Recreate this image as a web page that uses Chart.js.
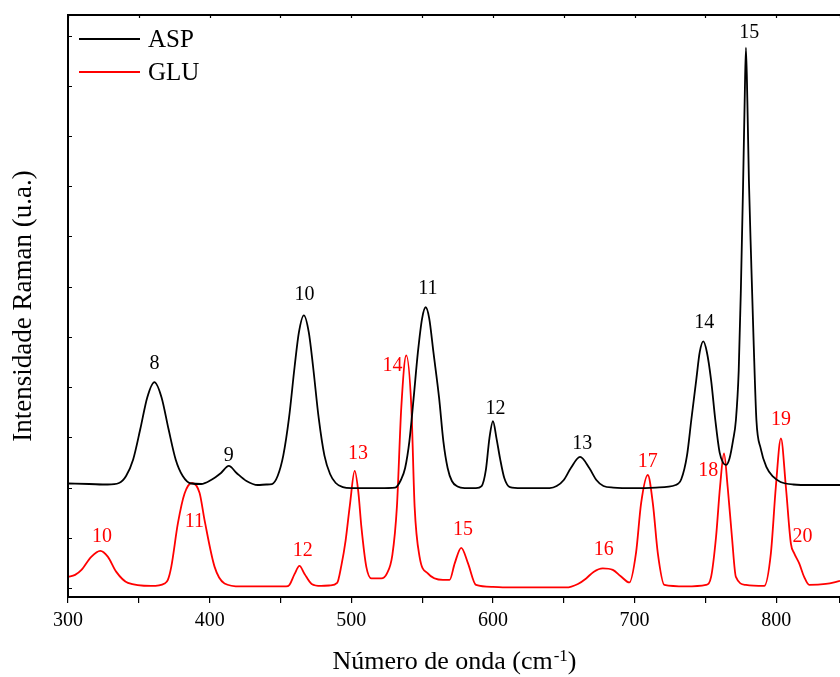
<!DOCTYPE html>
<html>
<head>
<meta charset="utf-8">
<script src="https://cdn.jsdelivr.net/npm/chart.js@4"></script>
<style>
  html, body { margin: 0; padding: 0; background: #fff; }
  #wrap { width: 840px; height: 677px; }
</style>
</head>
<body>
<div id="wrap"><canvas id="ramanChart"></canvas></div>
<script>
// Raman spectra (wavenumber in cm-1, intensity in a.u.)
const aspX = [300, 315, 328, 336, 341, 346, 351, 356, 361, 366, 371, 376, 381, 387, 394, 401, 408, 413.5, 419, 426, 434, 440,
  444, 448, 452, 456, 460, 463, 466.5, 470, 473, 477, 481, 485, 489, 494, 500, 520, 531,
  535, 538, 541, 544, 547, 550, 552.5, 555, 558, 562, 565, 568, 571, 575, 580, 588,
  592, 595, 597.5, 600, 602.5, 605, 608, 612, 620, 640,
  645, 650, 655, 661.5, 668, 673, 678, 685, 700, 715, 729,
  733, 737, 740, 743.5, 746, 748.5, 751, 754, 757, 760, 762.5, 764.5, 767, 769.5, 771.5, 773.5, 775, 776.5, 777.7, 778.6,
  779.6, 780.7, 782.3, 784, 786, 789, 793, 798, 803, 812, 825, 845];
const aspY = [2.08, 2.07, 2.06, 2.09, 2.23, 2.56, 3.16, 3.80, 4.10, 3.80, 3.16, 2.56, 2.23, 2.08, 2.07, 2.15, 2.29, 2.43, 2.29, 2.13, 2.05, 2.06,
  2.07, 2.23, 2.64, 3.38, 4.41, 5.09, 5.43, 5.09, 4.41, 3.38, 2.64, 2.27, 2.09, 2.01, 1.99, 1.99, 2.00,
  2.15, 2.39, 2.92, 3.78, 4.69, 5.37, 5.59, 5.37, 4.69, 3.78, 2.92, 2.39, 2.13, 2.02, 1.99, 1.99,
  2.03, 2.35, 2.98, 3.32, 2.98, 2.58, 2.19, 2.01, 1.99, 1.99,
  2.03, 2.15, 2.39, 2.61, 2.39, 2.15, 2.03, 2.00, 1.99, 2.00, 2.05,
  2.17, 2.64, 3.34, 4.14, 4.70, 4.91, 4.70, 4.14, 3.34, 2.70, 2.49, 2.45, 2.58, 2.94, 3.34, 4.33, 5.92, 7.91, 9.70, 10.76,
  9.70, 8.11, 6.52, 4.93, 3.34, 2.78, 2.41, 2.21, 2.11, 2.06, 2.05, 2.05];

const gluX = [300, 305, 309.5, 316.4, 322.8, 328.2, 334.1, 342.3, 358.8, 368.2, 370.5, 372.9, 377.6, 382.3, 387.5, 392.9, 396.4, 403.5, 410.5, 422, 454,
  456.3, 460, 463.4, 467, 472, 478.7, 485, 490, 493, 496, 499, 502.4, 505, 507.1, 510.6, 514.2, 521.2, 525, 529, 532.2, 535.3, 538.8,
  542.4, 544.7, 548.2, 554, 564.7, 569.4, 573, 577.6, 582.4, 588, 600, 609, 651.7, 660, 665.8, 671, 677.5, 684.6, 690, 696.3,
  701, 704.6, 709.3, 712.9, 716.4, 721, 736, 750.4, 754, 757.5, 760.3, 763.1, 765.7, 768.7, 771.5, 778.6, 791.5,
  796.2, 799.7, 803.3, 806.8, 810.3, 812.7, 816.2, 819.7, 823.3, 835, 845];
const gluY = [0.22, 0.26, 0.36, 0.62, 0.74, 0.62, 0.32, 0.10, 0.04, 0.09, 0.16, 0.42, 1.29, 1.88, 2.09, 1.89, 1.35, 0.42, 0.09, 0.03, 0.03,
  0.06, 0.28, 0.44, 0.28, 0.08, 0.04, 0.05, 0.10, 0.45, 0.95, 1.65, 2.33, 1.90, 1.22, 0.42, 0.19, 0.19, 0.28, 0.66, 1.62, 3.60, 4.63,
  3.60, 1.62, 0.62, 0.29, 0.16, 0.16, 0.49, 0.80, 0.49, 0.06, 0.02, 0.01, 0.01, 0.08, 0.19, 0.32, 0.39, 0.36, 0.24, 0.11,
  0.70, 1.69, 2.25, 1.68, 0.69, 0.06, 0.03, 0.06, 0.22, 1.02, 2.01, 2.68, 2.01, 1.02, 0.22, 0.06, 0.04,
  0.69, 2.01, 2.98, 2.01, 0.89, 0.69, 0.49, 0.22, 0.06, 0.08, 0.14];

// peak numbering
const aspPeakText = ['8', '9', '10', '11', '12', '13', '14', '15'];
const aspPeakX = [361, 413.5, 467, 554, 601.8, 663, 749.2, 781];
const aspPeakY = [4.47, 2.64, 5.83, 5.96, 3.57, 2.88, 5.29, 11.06];
const gluPeakText = ['10', '11', '12', '13', '14', '15', '16', '17', '18', '19', '20'];
const gluPeakX = [324, 389.3, 465.7, 504.7, 529, 578.8, 678.2, 709.3, 752, 803.3, 818.6];
const gluPeakY = [1.02, 1.32, 0.74, 2.68, 4.43, 1.15, 0.76, 2.51, 2.33, 3.35, 1.02];

const yTickValues = [0, 1, 2, 3, 4, 5, 6, 7, 8, 9, 10, 11];

const serif = '"Liberation Serif", "Times New Roman", serif';

function toPoints(xs, ys) {
  return xs.map((x, i) => ({ x: x, y: ys[i] }));
}

// frame, inward ticks, titles, legend and peak labels
const decorPlugin = {
  id: 'decor',
  afterDatasetsDraw(chart) {
    const ctx = chart.ctx;
    const xs = chart.scales.x, ys = chart.scales.y;
    ctx.save();
    ctx.font = '20px ' + serif;
    ctx.textAlign = 'center';
    ctx.textBaseline = 'middle';
    const groups = [
      [aspPeakText, aspPeakX, aspPeakY, '#000000'],
      [gluPeakText, gluPeakX, gluPeakY, '#ff0000']
    ];
    groups.forEach(g => {
      ctx.fillStyle = g[3];
      g[0].forEach((t, i) => {
        ctx.fillText(t, xs.getPixelForValue(g[1][i]), ys.getPixelForValue(g[2][i]));
      });
    });
    ctx.restore();
  },
  afterDraw(chart) {
    const ctx = chart.ctx;
    const a = chart.chartArea;
    const xs = chart.scales.x, ys = chart.scales.y;
    ctx.save();
    ctx.strokeStyle = '#000';
    ctx.lineWidth = 2;
    ctx.beginPath();
    ctx.moveTo(a.left, a.bottom);
    ctx.lineTo(a.left, a.top);
    ctx.lineTo(a.right + 2, a.top);
    ctx.stroke();

    ctx.lineWidth = 1.2;
    ctx.beginPath();
    yTickValues.forEach(v => {
      const py = Math.round(ys.getPixelForValue(v)) + 0.5;
      ctx.moveTo(a.left, py);
      ctx.lineTo(a.left + 4, py);
    });
    xs.ticks.forEach(t => {
      const px = Math.round(xs.getPixelForValue(t.value)) + 0.5;
      ctx.moveTo(px, a.top);
      ctx.lineTo(px, a.top + 3);
    });
    ctx.stroke();

    // legend
    ctx.font = '25px ' + serif;
    ctx.textAlign = 'left';
    ctx.textBaseline = 'middle';
    chart.data.datasets.forEach((ds, i) => {
      const y = a.top + 24 + i * 33;
      ctx.strokeStyle = ds.borderColor;
      ctx.lineWidth = 1.8;
      ctx.beginPath();
      ctx.moveTo(a.left + 11, y);
      ctx.lineTo(a.left + 72, y);
      ctx.stroke();
      ctx.fillStyle = '#000';
      ctx.fillText(ds.label, a.left + 80, y + 1);
    });

    // y title
    ctx.save();
    ctx.translate(31, (a.top + a.bottom) / 2);
    ctx.rotate(-Math.PI / 2);
    ctx.textAlign = 'center';
    ctx.textBaseline = 'alphabetic';
    ctx.font = '27px ' + serif;
    ctx.fillText('Intensidade Raman (u.a.)', 0, 0);
    ctx.restore();

    // x title with superscript
    const p1 = 'Número de onda (cm', sup = '-1', p2 = ')';
    ctx.font = '26px ' + serif;
    const w1 = ctx.measureText(p1).width, w3 = ctx.measureText(p2).width;
    ctx.font = '17px ' + serif;
    const w2 = ctx.measureText(sup).width;
    let x0 = (a.left + a.right) / 2 - (w1 + w2 + w3) / 2;
    const base = 669;
    ctx.textBaseline = 'alphabetic';
    ctx.font = '26px ' + serif;
    ctx.fillText(p1, x0, base);
    ctx.font = '17px ' + serif;
    ctx.fillText(sup, x0 + w1 + 1, base - 8);
    ctx.font = '26px ' + serif;
    ctx.fillText(p2, x0 + w1 + w2 + 1, base);
    ctx.restore();
  }
};

const ctx = document.getElementById('ramanChart').getContext('2d');
const ramanChart = new Chart(ctx, {
  type: 'line',
  data: {
    datasets: [{
      label: 'ASP',
      data: toPoints(aspX, aspY),
      borderColor: '#000000',
      borderWidth: 1.8,
      pointRadius: 0,
      cubicInterpolationMode: 'monotone',
      fill: false
    }, {
      label: 'GLU',
      data: toPoints(gluX, gluY),
      borderColor: '#ff0000',
      borderWidth: 1.8,
      pointRadius: 0,
      cubicInterpolationMode: 'monotone',
      fill: false
    }]
  },
  options: {
    responsive: true,
    maintainAspectRatio: false,
    animation: false,
    layout: { padding: { left: 68, top: 15, right: 0, bottom: 38 } },
    plugins: {
      legend: { display: false },
      tooltip: { enabled: false }
    },
    scales: {
      x: {
        type: 'linear',
        min: 300,
        max: 845,
        afterFit: scale => { scale.paddingRight = 0; },
        grid: { display: true, drawOnChartArea: false, drawTicks: true, tickLength: 6, color: '#000', lineWidth: 1.2 },
        border: { display: true, color: '#000', width: 2 },
        ticks: {
          stepSize: 50,
          padding: 6,
          color: '#000',
          font: { family: serif, size: 20 },
          maxRotation: 0,
          autoSkip: false,
          callback: v => (v % 100 === 0 ? String(v) : '')
        }
      },
      y: {
        display: false,
        min: -0.18,
        max: 11.41
      }
    }
  },
  plugins: [decorPlugin]
});
</script>
</body>
</html>
